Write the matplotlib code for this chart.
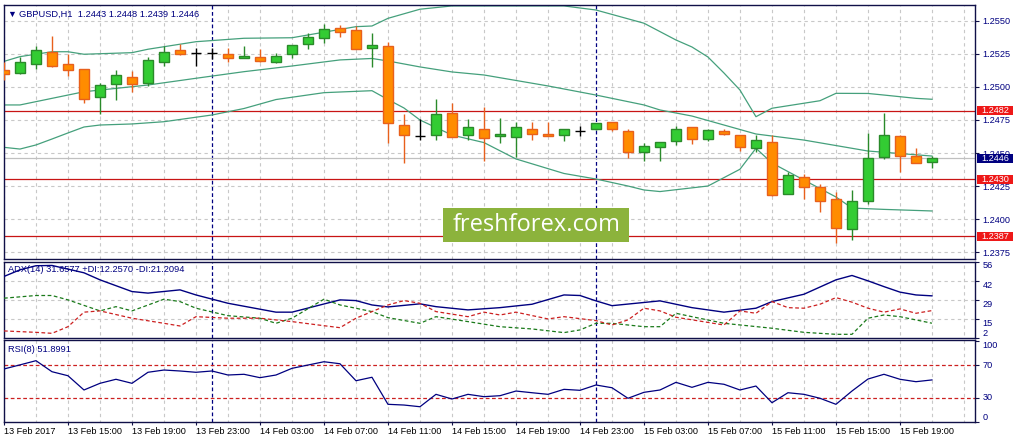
import matplotlib
matplotlib.use('Agg')
import matplotlib.pyplot as plt
import matplotlib.transforms as mtransforms
from matplotlib.patches import Rectangle

plt.rcParams['font.family'] = ['Liberation Sans', 'DejaVu Sans']

# hourly GBPUSD bars, 13 Feb 11:00 .. 15 Feb 21:00
opens = [1.25129, 1.25104, 1.25172, 1.25265, 1.25174, 1.25134, 1.24922, 1.25025, 1.25073, 1.25032,
         1.25191, 1.25278, 1.25255, 1.25255, 1.25250, 1.25222, 1.25225, 1.25191, 1.25248, 1.25323,
         1.25369, 1.25445, 1.25430, 1.25293, 1.25310, 1.24712, 1.24628, 1.24634, 1.24800, 1.24634,
         1.24681, 1.24628, 1.24623, 1.24679, 1.24643, 1.24636, 1.24669, 1.24679, 1.24732, 1.24669,
         1.24509, 1.24543, 1.24593, 1.24694, 1.24608, 1.24664, 1.24636, 1.24540, 1.24581, 1.24186,
         1.24320, 1.24242, 1.24151, 1.23921, 1.24138, 1.24471, 1.24628, 1.24474, 1.24430]
highs = [1.25192, 1.25229, 1.25311, 1.25386, 1.25250, 1.25134, 1.25032, 1.25129, 1.25121, 1.25229,
         1.25311, 1.25323, 1.25298, 1.25298, 1.25298, 1.25311, 1.25285, 1.25260, 1.25318, 1.25407,
         1.25477, 1.25470, 1.25462, 1.25407, 1.25339, 1.24795, 1.24755, 1.24907, 1.24876, 1.24755,
         1.24850, 1.24762, 1.24737, 1.24737, 1.24737, 1.24679, 1.24704, 1.24730, 1.24737, 1.24679,
         1.24573, 1.24585, 1.24706, 1.24700, 1.24679, 1.24679, 1.24640, 1.24636, 1.24636, 1.24355,
         1.24338, 1.24262, 1.24201, 1.24219, 1.24653, 1.24805, 1.24636, 1.24540, 1.24480]
lows = [1.25053, 1.25096, 1.25134, 1.25154, 1.25085, 1.24881, 1.24795, 1.24901, 1.24964, 1.25007,
        1.25159, 1.25242, 1.25161, 1.25210, 1.25191, 1.25222, 1.25191, 1.25184, 1.25222, 1.25285,
        1.25336, 1.25376, 1.25285, 1.25154, 1.24578, 1.24421, 1.24598, 1.24598, 1.24623, 1.24598,
        1.24441, 1.24573, 1.24471, 1.24598, 1.24631, 1.24593, 1.24628, 1.24675, 1.24669, 1.24459,
        1.24441, 1.24441, 1.24560, 1.24568, 1.24593, 1.24640, 1.24517, 1.24509, 1.24172, 1.24186,
        1.24148, 1.24050, 1.23815, 1.23838, 1.24113, 1.24456, 1.24358, 1.24421, 1.24390]
closes = [1.25096, 1.25187, 1.25278, 1.25161, 1.25126, 1.24911, 1.25013, 1.25088, 1.25025, 1.25202,
          1.25263, 1.25250, 1.25255, 1.25255, 1.25217, 1.25235, 1.25199, 1.25232, 1.25318, 1.25376,
          1.25437, 1.25414, 1.25285, 1.25318, 1.24724, 1.24634, 1.24628, 1.24793, 1.24623, 1.24694,
          1.24611, 1.24641, 1.24694, 1.24646, 1.24631, 1.24679, 1.24669, 1.24724, 1.24679, 1.24505,
          1.24552, 1.24581, 1.24679, 1.24603, 1.24674, 1.24643, 1.24547, 1.24596, 1.24179, 1.24330,
          1.24244, 1.24138, 1.23929, 1.24136, 1.24462, 1.24636, 1.24479, 1.24421, 1.24460]

# bollinger bands (read at selected bars)
bb_up_bar = [0, 1, 3, 4, 5, 8, 9, 12, 15, 18, 22, 23, 24, 26, 28, 35, 37, 40, 42, 43, 44, 45, 46, 47,
             48, 51, 52, 54, 55, 57, 58]
bb_up = [1.25194, 1.25230, 1.25267, 1.25267, 1.25248, 1.25260, 1.25286, 1.25343, 1.25369, 1.25373,
         1.25457, 1.25462, 1.25520, 1.25589, 1.25614, 1.25614, 1.25583, 1.25483, 1.25356, 1.25303,
         1.25227, 1.25106, 1.24977, 1.24775, 1.24839, 1.24896, 1.24952, 1.24951, 1.24939, 1.24914,
         1.24907]
bb_mid_bar = [0, 1, 3, 5, 9, 12, 15, 18, 21, 23, 24, 26, 28, 30, 34, 37, 40, 41, 42, 43, 47, 50, 54, 58]
bb_mid = [1.24864, 1.24864, 1.24914, 1.24964, 1.25015, 1.25066, 1.25116, 1.25159, 1.25205, 1.25216,
          1.25197, 1.25152, 1.25114, 1.25091, 1.25008, 1.24939, 1.24864, 1.24826, 1.24803, 1.24780,
          1.24644, 1.24598, 1.24515, 1.24477]
bb_low_bar = [0, 1, 2, 3, 4, 5, 6, 8, 10, 13, 15, 17, 20, 23, 24, 25, 26, 28, 30, 32, 35, 37, 39, 40,
              41, 44, 46, 47, 48, 50, 52, 53, 55, 58]
bb_low = [1.24543, 1.24530, 1.24561, 1.24606, 1.24652, 1.24697, 1.24712, 1.24720, 1.24737, 1.24788,
          1.24837, 1.24905, 1.24957, 1.24972, 1.24905, 1.24841, 1.24750, 1.24636, 1.24579, 1.24455,
          1.24345, 1.24303, 1.24250, 1.24220, 1.24208, 1.24250, 1.24377, 1.24536, 1.24424, 1.24295,
          1.24167, 1.24083, 1.24073, 1.24061]

levels = [1.2482, 1.2430, 1.2387]
bid = 1.2446
price_ticks = [1.2375, 1.2400, 1.2425, 1.2450, 1.2475, 1.2500, 1.2525, 1.2550]

# ADX(14)
adx_bar = [0, 1, 2, 3, 5, 6, 8, 9, 11, 12, 14, 17, 18, 21, 22, 23, 24, 26, 27, 29, 31, 33, 35, 36, 37,
           38, 41, 43, 45, 47, 48, 50, 52, 53, 54, 55, 56, 57, 58]
adx = [45.4, 50.1, 53.0, 53.2, 48.0, 43.0, 34.7, 33.6, 35.9, 32.3, 26.4, 20.1, 20.1, 28.8, 28.3, 25.2,
       23.8, 26.0, 24.0, 21.7, 23.3, 25.7, 32.3, 31.9, 28.1, 24.7, 28.1, 23.3, 20.1, 22.9, 27.6, 32.8,
       43.0, 46.1, 42.3, 38.2, 34.3, 32.3, 31.66]
pdi_bar = [0, 2, 3, 4, 6, 7, 8, 10, 11, 12, 14, 16, 17, 18, 20, 21, 23, 24, 26, 27, 29, 31, 33, 35, 36,
           37, 38, 40, 41, 42, 43, 45, 48, 50, 52, 53, 54, 55, 56, 57, 58]
pdi = [30.0, 31.9, 31.9, 28.8, 21.0, 24.0, 21.0, 29.3, 27.6, 22.9, 17.6, 15.8, 12.2, 15.8, 29.3, 25.2,
       20.5, 16.2, 12.2, 16.9, 13.4, 9.8, 8.2, 5.6, 7.5, 12.2, 12.2, 9.8, 9.8, 19.3, 16.9, 12.2, 8.7,
       5.8, 4.4, 4.4, 15.8, 18.1, 16.9, 14.6, 12.26]
mdi_bar = [0, 2, 3, 4, 5, 6, 8, 10, 11, 12, 14, 16, 18, 20, 21, 22, 24, 25, 26, 27, 29, 30, 31, 32, 34,
           35, 37, 38, 39, 40, 41, 42, 45, 46, 47, 48, 49, 50, 51, 52, 53, 54, 55, 56, 57, 58]
mdi = [6.8, 5.8, 5.1, 9.8, 20.1, 21.0, 15.8, 12.2, 10.3, 16.9, 15.8, 15.8, 13.4, 10.5, 9.1, 15.8, 25.2,
       28.3, 26.4, 20.5, 16.9, 20.1, 18.1, 20.1, 15.3, 16.9, 14.1, 11.0, 14.6, 22.9, 21.0, 16.5, 11.0,
       21.0, 19.3, 27.6, 23.3, 22.9, 25.7, 30.4, 27.2, 22.9, 20.1, 22.4, 19.3, 21.21]

# RSI(8)
rsi = [65.5, 70.6, 75.8, 62.1, 57.1, 39.4, 47.7, 52.7, 47.7, 61.4, 64.2, 63.0, 61.4, 63.0, 58.0, 58.9,
       54.7, 58.0, 66.3, 70.4, 74.5, 72.0, 50.9, 55.2, 21.6, 20.7, 18.6, 34.0, 28.2, 34.0, 31.1, 32.3,
       38.1, 36.0, 34.0, 40.2, 39.0, 45.6, 42.2, 29.1, 36.5, 39.4, 48.9, 42.7, 48.9, 46.5, 39.4, 44.3,
       23.6, 36.0, 34.0, 29.1, 21.6, 38.1, 53.0, 58.9, 52.7, 49.7, 51.90]

date_ticks = list(range(0, 57, 4))
date_labels = ['13 Feb 2017', '13 Feb 15:00', '13 Feb 19:00', '13 Feb 23:00', '14 Feb 03:00',
               '14 Feb 07:00', '14 Feb 11:00', '14 Feb 15:00', '14 Feb 19:00', '14 Feb 23:00',
               '15 Feb 03:00', '15 Feb 07:00', '15 Feb 11:00', '15 Feb 15:00', '15 Feb 19:00']
day_breaks = [13, 37]

NAVY = '#000080'
FRAME = '#101048'
GRID = '#c8c8c8'
BAND = '#45a07c'
BULL, BULL_EDGE = '#33cc33', '#2a8a2a'
BEAR, BEAR_EDGE = '#ff8c00', '#e8601c'
FS = 6.6

W, H = 1017, 445
fig = plt.figure(figsize=(W / 100, H / 100), dpi=100)
fig.patch.set_facecolor('white')


def box(x0, y0, x1, y1):
    return [x0 / W, 1 - y1 / H, (x1 - x0) / W, (y1 - y0) / H]


ax = fig.add_axes(box(3.5, 5, 975, 258.5))
axa = fig.add_axes(box(3.5, 261.5, 975, 337.7), sharex=ax)
axr = fig.add_axes(box(3.5, 340, 975, 421.7), sharex=ax)

xlim = (-0.03, 60.69)
for a in (ax, axa, axr):
    a.set_xlim(*xlim)
    for s in a.spines.values():
        s.set_color(FRAME)
        s.set_linewidth(1)
    a.yaxis.tick_right()
    a.tick_params(axis='y', colors=FRAME, labelcolor=NAVY, labelsize=FS, length=3, width=0.8, pad=2.5)
    a.vlines(range(0, 61, 2), -10, 200, colors=GRID, lw=0.8, linestyles=(0, (3, 3)), zorder=0)
    for d in day_breaks:
        a.axvline(d, color=NAVY, lw=0.9, ls=(0, (3, 2)), zorder=1)

# ---- price panel
ax.set_ylim(1.23701, 1.25621)
ax.set_yticks(price_ticks)
ax.set_yticklabels(['%.4f' % p for p in price_ticks])
ax.hlines(price_ticks, *xlim, colors=GRID, lw=0.8, linestyles=(0, (3, 3)), zorder=0)
ax.tick_params(axis='x', bottom=False, labelbottom=False)
ax.axhline(bid, color='#c0c0c0', lw=0.9, zorder=1)
for lv in levels:
    ax.axhline(lv, color='#c81414', lw=0.9, zorder=2)

ax.plot(bb_up_bar, bb_up, color=BAND, lw=0.9, zorder=2)
ax.plot(bb_mid_bar, bb_mid, color=BAND, lw=0.9, zorder=2)
ax.plot(bb_low_bar, bb_low, color=BAND, lw=0.9, zorder=2)

for i, (o, h, l, c) in enumerate(zip(opens, highs, lows, closes)):
    if abs(c - o) < 1e-6:
        ax.vlines(i, l, h, colors='black', lw=1, zorder=3)
        ax.hlines(o, i - 0.32, i + 0.32, colors='black', lw=1, zorder=3)
        continue
    fill, edge = (BULL, BULL_EDGE) if c > o else (BEAR, BEAR_EDGE)
    ax.vlines(i, l, h, colors=edge, lw=1, zorder=3)
    ax.bar(i, abs(c - o), width=0.6, bottom=min(o, c), color=fill, edgecolor=edge,
           linewidth=1, zorder=4)

# price boxes on the scale
trans = mtransforms.blended_transform_factory(ax.transAxes, ax.transData)
bh = 9 / 13200.0
for val, col in [(1.2482, '#ee1818'), (1.2430, '#ee1818'), (1.2387, '#ee1818'), (bid, NAVY)]:
    ax.add_patch(Rectangle((1.0021, val - bh / 2), 0.0371, bh, transform=trans, facecolor=col,
                           edgecolor='none', clip_on=False, zorder=6))
    ax.text(1.0206, val, '%.4f' % val, transform=trans, ha='center', va='center', color='white',
            fontsize=FS, zorder=7, clip_on=False)

# ---- ADX panel
axa.set_ylim(2, 56)
adx_ticks = [2, 15, 29, 42, 56]
axa.set_yticks(adx_ticks)
axa.set_yticklabels([str(t) for t in adx_ticks])
for lab, va in zip(axa.get_yticklabels(), ['bottom', 'top', 'top', 'top', 'top']):
    lab.set_va(va)
axa.hlines([15, 29, 42], *xlim, colors=GRID, lw=0.8, linestyles=(0, (3, 3)), zorder=0)
axa.tick_params(axis='x', bottom=False, labelbottom=False)
axa.plot(adx_bar, adx, color=NAVY, lw=1, zorder=3)
axa.plot(pdi_bar, pdi, color='#1a7a1a', lw=0.9, ls=(0, (3, 2)), zorder=3)
axa.plot(mdi_bar, mdi, color='#cc2020', lw=0.9, ls=(0, (3, 2)), zorder=3)

# ---- RSI panel
axr.set_ylim(0, 101.5)
rsi_ticks = [0, 30, 70, 100]
axr.set_yticks(rsi_ticks)
axr.set_yticklabels([str(t) for t in rsi_ticks])
for lab, va in zip(axr.get_yticklabels(), ['bottom', 'center', 'center', 'top']):
    lab.set_va(va)
axr.hlines([30, 70], *xlim, colors='#cc2020', lw=0.9, linestyles=(0, (3, 2)), zorder=1)
axr.plot(range(len(rsi)), rsi, color=NAVY, lw=0.9, zorder=3)
axr.set_xticks(date_ticks)
axr.set_xticklabels(date_labels, ha='left')
axr.tick_params(axis='x', colors=FRAME, labelcolor='black', labelsize=FS, length=2, width=0.8, pad=2)

# ---- captions
fig.text(7.5 / W, 1 - 14 / H, '\u25bc', fontsize=6.5, color=NAVY, va='center')
fig.text(19 / W, 1 - 14 / H, 'GBPUSD,H1  1.2443 1.2448 1.2439 1.2446', fontsize=6.7, color=NAVY,
         va='center')
fig.text(8.3 / W, 1 - 270 / H, 'ADX(14) 31.6577 +DI:12.2570 -DI:21.2094', fontsize=6.7, color=NAVY,
         va='center')
fig.text(8.3 / W, 1 - 350 / H, 'RSI(8) 51.8991', fontsize=6.7, color=NAVY, va='center')

# watermark
fig.patches.append(Rectangle((443.3 / W, 1 - 241.7 / H), 185.7 / W, 33.4 / H,
                             transform=fig.transFigure, facecolor='#8cb33c', edgecolor='none',
                             zorder=5))
fig.text(536.2 / W, 1 - 225 / H, 'freshforex.com', fontsize=17, color='white', ha='center',
         va='center', family='Open Sans', zorder=6)

fig.savefig('out.png', dpi=100, facecolor='white')
